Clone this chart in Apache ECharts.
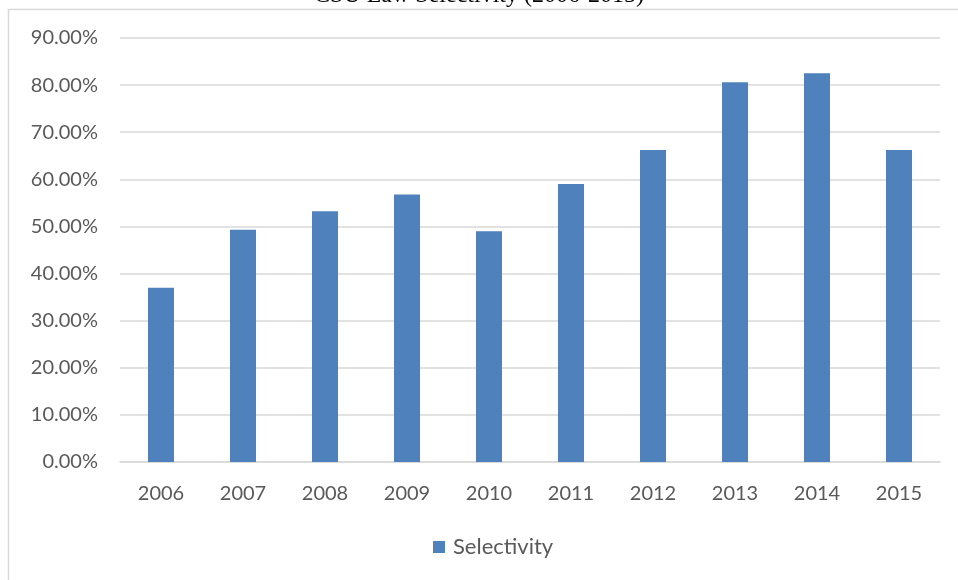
<!DOCTYPE html>
<html>
<head>
<meta charset="utf-8">
<script src="https://cdn.jsdelivr.net/npm/echarts@6/dist/echarts.min.js"></script>
<style>
html,body{margin:0;padding:0;background:#fff;}
#chart{width:958px;height:580px;}
</style>
</head>
<body>
<div id="chart"></div>
<script>
var categories = ['2006','2007','2008','2009','2010','2011','2012','2013','2014','2015'];
var selectivity = [0.370, 0.493, 0.532, 0.568, 0.490, 0.590, 0.662, 0.806, 0.825, 0.662];
var seriesName = 'Selectivity';
var titleText = 'CSU Law Selectivity (2006-2015)';

var chart = echarts.init(document.getElementById('chart'));
chart.setOption({
  animation: false,
  backgroundColor: '#ffffff',
  graphic: [
    {type:'rect', shape:{x:8.5,y:9.5,width:1000,height:1000}, style:{fill:'none', stroke:'#d9d9d9', lineWidth:1.5}, z:-1},
    {type:'text', left:'center', top:-16, style:{text:titleText, font:'24px "Liberation Serif"', fill:'#000'}}
  ],
  grid: {left:120, right:18, top:38, bottom:118},
  legend: {
    bottom: 17, left: 428,
    itemWidth: 12, itemHeight: 12, itemGap: 8,
    icon: 'rect',
    textStyle: {color:'#595959', fontSize:22, fontFamily:'Lato', padding:[0,0,0,3]},
    data: [seriesName]
  },
  xAxis: {
    type:'category', data: categories,
    axisLine:{lineStyle:{color:'#d9d9d9', width:1.5}},
    axisTick:{show:false},
    axisLabel:{color:'#595959', fontSize:20, fontFamily:'Lato', margin:22}
  },
  yAxis: {
    type:'value', min:0, max:0.9, interval:0.1,
    axisLine:{show:false}, axisTick:{show:false},
    splitLine:{lineStyle:{color:'#d9d9d9', width:1.5}},
    axisLabel:{color:'#595959', fontSize:20, fontFamily:'Lato', margin:22,
      formatter:function(v){return (v*100).toFixed(2)+'%';}}
  },
  series: [{
    name: seriesName, type:'bar', data: selectivity, barWidth: 26,
    itemStyle:{color:'#4f81bd'}
  }]
});
</script>
</body>
</html>
